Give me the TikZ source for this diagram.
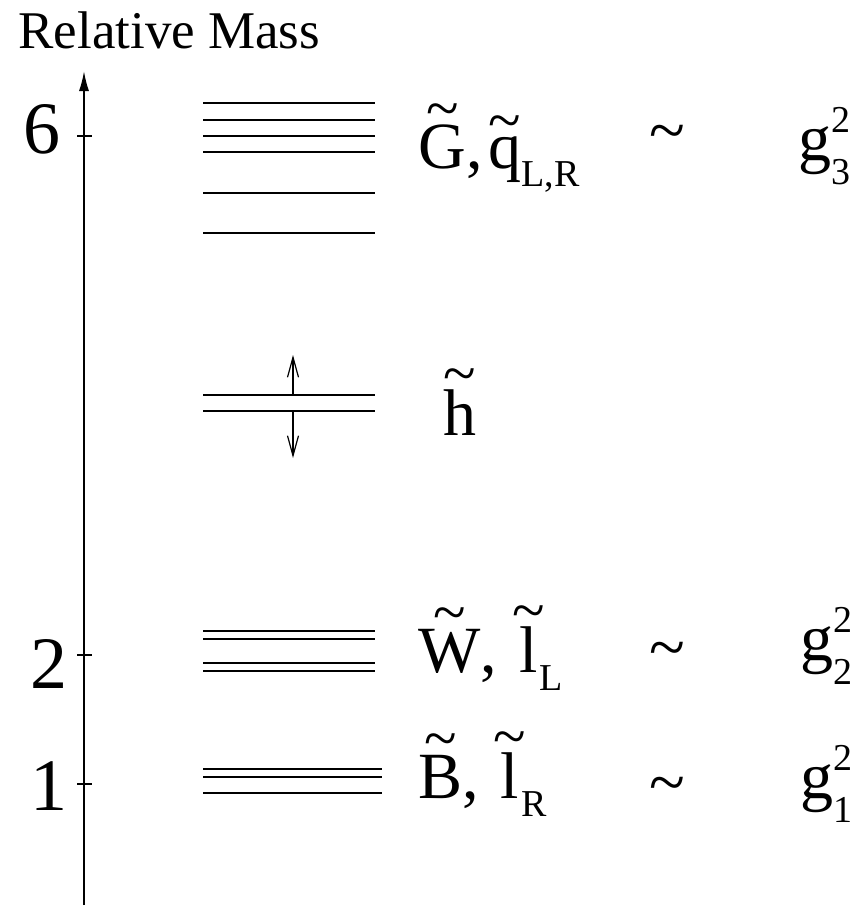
\documentclass[tikz,border=0pt]{standalone}
\usepackage{fontspec}
\setmainfont{Liberation Serif}
\usetikzlibrary{arrows.meta}
\newbox\tldbox
\newcommand{\tld}[1]{\leavevmode\setbox\tldbox=\hbox{#1}\vbox{\offinterlineskip\hbox to\wd\tldbox{\hss{\fontsize{30}{30}\selectfont\textasciitilde}\hss}\kern-2pt\box\tldbox}}
\newcommand{\lo}[1]{\raisebox{-9pt}{\fontsize{19}{19}\selectfont #1}}
\newcommand{\gsq}[1]{g\rlap{\raisebox{14pt}{\fontsize{19}{19}\selectfont 2}}\raisebox{-12pt}{\fontsize{19}{19}\selectfont #1}}

\begin{document}
\begin{tikzpicture}[x=0.5pt, y=-0.5pt,
    every node/.style={font=\fontsize{33}{36}\selectfont, inner sep=0pt},
    levelline/.style={line width=0.9pt},
    massaxis/.style={line width=0.8pt, -{Latex[length=10pt, width=5pt]}},
    tickmark/.style={line width=0.7pt},
    shiftarr/.style={line width=0.6pt, -{Straight Barb[length=10pt, width=5.5pt]}},
    lbl/.style={anchor=base west},
    num/.style={anchor=base east, font=\fontsize{37}{40}\selectfont},
    sim/.style={font=\fontsize{33}{35}\selectfont}
]
\useasboundingbox (0,0) rectangle (852,911);

\node[anchor=base west, font=\fontsize{26.5}{30}\selectfont] (title) at (18,48) {Relative Mass};

\coordinate (bot) at (84,905);
\coordinate (top) at (84,71);
\draw[massaxis] (bot) -- (top);

\foreach \y/\n/\x/\b in {136/6/61/153, 655/2/68/688, 784/1/68/810} {
  \draw[tickmark] (77,\y) -- (92,\y);
  \node[num] (n\n) at (\x,\b) {\n};
}

\foreach \y in {103,120,136,152,193,233}
  \draw[levelline] (203,\y) -- (375,\y);
\foreach \y in {395,411}
  \draw[levelline] (203,\y) -- (375,\y);
\foreach \y in {631,639,663,671}
  \draw[levelline] (203,\y) -- (375,\y);
\foreach \y in {769,777,793}
  \draw[levelline] (203,\y) -- (382,\y);

\coordinate (hup) at (293,395);
\coordinate (hdn) at (293,411);
\coordinate (hupend) at (293,355);
\coordinate (hdnend) at (293,458);
\draw[shiftarr] (hup) -- (hupend);
\draw[shiftarr] (hdn) -- (hdnend);

\node[lbl] (gluino) at (418,168) {\tld{G},\kern3pt\tld{q}\lo{L,R}};
\node[lbl] (higgsino) at (443,435) {\tld{h}};
\node[lbl] (wino) at (418,672) {\tld{W},\kern11pt\tld{l}\kern1pt\lo{L}};
\node[lbl] (bino) at (418,798) {\tld{B},\kern11pt\tld{l}\kern1pt\lo{R}};

\node[sim] (sim3) at (667,139) {\textasciitilde};
\node[sim] (sim2) at (667,656) {\textasciitilde};
\node[sim] (sim1) at (667,791) {\textasciitilde};

\node[lbl] (g3) at (798,160) {\gsq{3}};
\node[lbl] (g2) at (800,660) {\gsq{2}};
\node[lbl] (g1) at (800,798) {\gsq{1}};
\end{tikzpicture}
\end{document}
